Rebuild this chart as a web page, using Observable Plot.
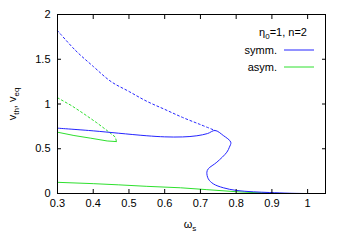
<!DOCTYPE html>
<html><head><meta charset="utf-8">
<script src="https://cdn.jsdelivr.net/npm/d3@7"></script>
<script src="https://cdn.jsdelivr.net/npm/@observablehq/plot@0.6"></script>
<style>body{margin:0;background:#fff;font-family:"Liberation Sans",Arial,sans-serif}</style>
</head><body><div id="chart"></div>
<script>
// symmetric, unstable (dashed) branch
const symmDashedW = [0.3, 0.35, 0.4, 0.45, 0.5, 0.55, 0.6, 0.65, 0.7, 0.741];
const symmDashedV = [1.82, 1.60, 1.42, 1.25, 1.14, 1.03, 0.94, 0.85, 0.77, 0.704];
// symmetric, stable (solid) branch, parametric S-curve
const symmSolidW = [0.3, 0.4, 0.47, 0.55, 0.6, 0.65, 0.69, 0.72, 0.741, 0.764, 0.785, 0.781, 0.774, 0.746, 0.722, 0.718, 0.722, 0.736, 0.764, 0.801, 0.848, 0.894, 0.95, 0.99];
const symmSolidV = [0.73, 0.70, 0.674, 0.645, 0.633, 0.632, 0.645, 0.67, 0.704, 0.648, 0.573, 0.517, 0.462, 0.35, 0.276, 0.238, 0.164, 0.108, 0.064, 0.034, 0.019, 0.011, 0.003, 0.0];
// asymmetric branches
const asymDashedW = [0.3, 0.34, 0.374, 0.41, 0.44, 0.462, 0.465];
const asymDashedV = [1.07, 0.98, 0.89, 0.79, 0.70, 0.63, 0.58];
const asymUpperW = [0.3, 0.346, 0.393, 0.439, 0.465];
const asymUpperV = [0.685, 0.648, 0.618, 0.587, 0.58];
const asymLowerW = [0.3, 0.4, 0.47, 0.55, 0.644, 0.718, 0.8, 0.85, 0.9, 0.93];
const asymLowerV = [0.125, 0.11, 0.097, 0.08, 0.064, 0.043, 0.02, 0.01, 0.002, 0.0];
const xTicks = [0.3, 0.4, 0.5, 0.6, 0.7, 0.8, 0.9, 1];
const yTicks = [0, 0.5, 1, 1.5, 2];
const seriesNames = ["symm.", "asym."];
const seriesColors = ["#2424ff", "#2ee02e"];

const pts = (w, v) => w.map((x, i) => ({x, y: v[i]}));
const blue = seriesColors[0], green = seriesColors[1];
const fmt = d => String(d);

const plot = Plot.plot({
  width: 346, height: 242,
  marginLeft: 57, marginRight: 21, marginTop: 14, marginBottom: 49,
  style: {fontFamily: '"Liberation Sans", Arial, sans-serif', fontSize: "11px", color: "#000", background: "#fff"},
  x: {domain: [0.3, 1.05]},
  y: {domain: [0, 2]},
  marks: [
    Plot.line(pts(asymLowerW, asymLowerV), {x: "x", y: "y", stroke: green, strokeWidth: 1}),
    Plot.line(pts(asymUpperW, asymUpperV), {x: "x", y: "y", stroke: green, strokeWidth: 1}),
    Plot.line(pts(asymDashedW, asymDashedV), {x: "x", y: "y", stroke: green, strokeWidth: 1, strokeDasharray: "2,2.5"}),
    Plot.line(pts(symmDashedW, symmDashedV), {x: "x", y: "y", stroke: blue, strokeWidth: 1, strokeDasharray: "2,2.5", curve: "catmull-rom"}),
    Plot.line(pts(symmSolidW, symmSolidV), {x: "x", y: "y", stroke: blue, strokeWidth: 1, curve: "catmull-rom"}),
    Plot.axisX({ticks: xTicks, tickFormat: fmt, tickSize: 0, tickPadding: 6, label: null}),
    Plot.axisX({ticks: xTicks, tickSize: -4, tickFormat: () => "", label: null}),
    Plot.axisX({anchor: "top", ticks: xTicks, tickSize: -4, tickFormat: () => "", label: null}),
    Plot.axisY({ticks: yTicks, tickFormat: fmt, tickSize: 0, tickPadding: 7, label: null}),
    Plot.axisY({ticks: yTicks, tickSize: -4, tickFormat: () => "", label: null}),
    Plot.axisY({anchor: "right", ticks: yTicks, tickSize: -4, tickFormat: () => "", label: null}),
    Plot.frame({stroke: "#000", strokeWidth: 1})
  ]
});
document.getElementById("chart").appendChild(plot);

// labels with subscripts and legend
const svg = d3.select(plot);
const ff = '"Liberation Sans", Arial, sans-serif';
const xl = svg.append("text").attr("x", 190).attr("y", 228).attr("text-anchor", "middle")
  .attr("font-family", ff).attr("font-size", 11).attr("fill", "#000");
xl.append("tspan").text("ω");
xl.append("tspan").attr("dy", 3).attr("font-size", 8).text("s");

const yl = svg.append("text").attr("transform", "translate(16,104) rotate(-90)").attr("text-anchor", "middle")
  .attr("font-family", ff).attr("font-size", 11).attr("fill", "#000");
yl.append("tspan").text("v");
yl.append("tspan").attr("dy", 3).attr("font-size", 8).text("th");
yl.append("tspan").attr("dy", -3).text(", v");
yl.append("tspan").attr("dy", 3).attr("font-size", 8).text("eq");

const lt = svg.append("text").attr("x", 307).attr("y", 36).attr("text-anchor", "end")
  .attr("font-family", ff).attr("font-size", 11).attr("fill", "#000");
lt.append("tspan").text("η");
lt.append("tspan").attr("dy", 3).attr("font-size", 8).text("0");
lt.append("tspan").attr("dy", -3).text("=1, n=2");

seriesNames.forEach((name, i) => {
  const y = 50 + i * 17;
  svg.append("text").attr("x", 277).attr("y", y + 4).attr("text-anchor", "end")
    .attr("font-family", ff).attr("font-size", 11).attr("fill", "#000").text(name);
  svg.append("line").attr("x1", 284).attr("x2", 314).attr("y1", y).attr("y2", y)
    .attr("stroke", seriesColors[i]).attr("stroke-width", 1);
});
</script></body></html>
